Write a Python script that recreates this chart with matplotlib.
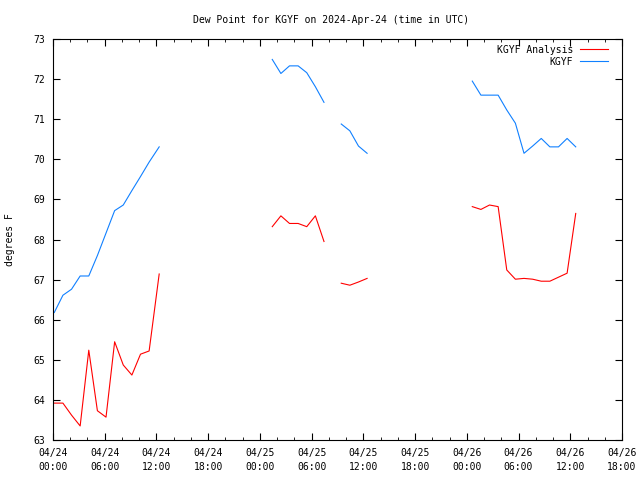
import numpy as np
import pandas as pd
import matplotlib
matplotlib.use("Agg")
import matplotlib.pyplot as plt
import matplotlib.dates as mdates

plt.rcParams['font.family'] = ['DejaVu Sans Mono']
plt.rcParams['font.size'] = 7

# observation times (UTC); NaN rows break the lines
times = [
    "2024-04-24 00:09", "2024-04-24 01:09", "2024-04-24 02:09", "2024-04-24 03:09",
    "2024-04-24 04:09", "2024-04-24 05:09", "2024-04-24 06:09", "2024-04-24 07:09",
    "2024-04-24 08:09", "2024-04-24 09:09", "2024-04-24 10:09", "2024-04-24 11:09",
    "2024-04-24 12:19", "2024-04-24 13:09",
    "2024-04-25 01:26", "2024-04-25 02:26", "2024-04-25 03:26", "2024-04-25 04:26",
    "2024-04-25 05:26", "2024-04-25 06:26", "2024-04-25 07:26", "2024-04-25 08:26",
    "2024-04-25 09:26", "2024-04-25 10:26", "2024-04-25 11:26", "2024-04-25 12:26",
    "2024-04-25 13:26",
    "2024-04-26 00:38", "2024-04-26 01:38", "2024-04-26 02:38", "2024-04-26 03:38",
    "2024-04-26 04:38", "2024-04-26 05:38", "2024-04-26 06:38", "2024-04-26 07:38",
    "2024-04-26 08:38", "2024-04-26 09:38", "2024-04-26 10:38", "2024-04-26 11:38",
    "2024-04-26 12:38",
]

nan = np.nan
analysis = [
    63.92, 63.92, 63.62, 63.35, 65.24, 63.73, 63.57, 65.45, 64.87, 64.62, 65.14, 65.22, 67.14, nan,
    68.32, 68.59, 68.40, 68.40, 68.32, 68.59, 67.95, nan, 66.91, 66.86, 66.94, 67.03, nan,
    68.82, 68.75, 68.86, 68.82, 67.24, 67.01, 67.03, 67.01, 66.96, 66.96, 67.06, 67.16, 68.65,
]
obs = [
    66.18, 66.61, 66.76, 67.09, 67.09, 67.60, 68.16, 68.72, 68.86, 69.22, 69.57, 69.93, 70.31, nan,
    72.49, 72.14, 72.33, 72.33, 72.16, 71.81, 71.42, nan, 70.88, 70.71, 70.33, 70.15, nan,
    71.95, 71.60, 71.60, 71.60, 71.23, 70.90, 70.15, 70.33, 70.52, 70.31, 70.31, 70.52, 70.31,
]

t = pd.to_datetime(times)

fig = plt.figure(figsize=(6.4, 4.8), dpi=100)
ax = fig.add_axes([53/640, 40/480, 569/640, 401/480])

ax.plot(t, analysis, color='#ff0000', lw=0.8, label='KGYF Analysis')
ax.plot(t, obs, color='#1080ff', lw=0.8, label='KGYF')

ax.set_xlim(pd.Timestamp("2024-04-24 00:00"), pd.Timestamp("2024-04-26 18:00"))
ax.set_ylim(63, 73)
ax.set_yticks(range(63, 74))
ax.xaxis.set_major_locator(mdates.HourLocator(byhour=[0, 6, 12, 18]))
ax.xaxis.set_minor_locator(mdates.HourLocator(byhour=range(0, 24, 2)))
ax.xaxis.set_major_formatter(mdates.DateFormatter('%m/%d\n%H:%M'))
ax.tick_params(which='both', direction='in', top=True, right=True, labelsize=7)
ax.tick_params(which='major', length=5)
ax.tick_params(which='minor', length=2.5)
ax.tick_params(axis='x', pad=6)
ax.tick_params(axis='y', pad=6)
for lab in ax.get_xticklabels():
    lab.set_linespacing(1.4)

fig.text(331/640, 1 - 20/480, 'Dew Point for KGYF on 2024-Apr-24 (time in UTC)',
         ha='center', va='center', fontsize=7)
ax.set_ylabel('degrees F', fontsize=7, labelpad=13)

ax.legend(loc='upper right', bbox_to_anchor=(0.986, 1.0), frameon=False,
          markerfirst=False, handlelength=2.9, fontsize=7, borderaxespad=0.2,
          labelspacing=0.2, handletextpad=0.7)

fig.savefig('out.png', dpi=100)
